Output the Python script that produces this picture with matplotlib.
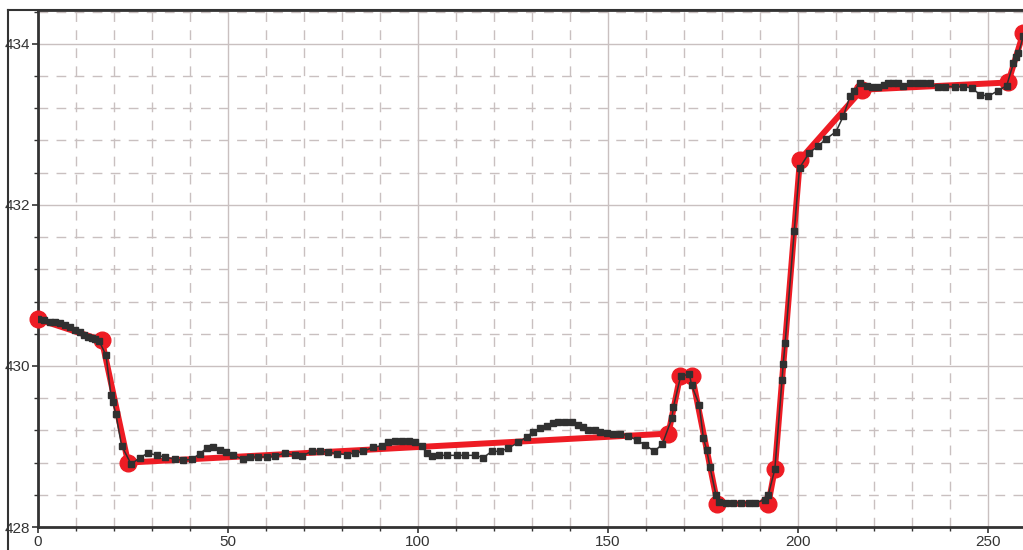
import numpy as np
import matplotlib.pyplot as plt
from matplotlib.lines import Line2D
from matplotlib.ticker import MultipleLocator

plt.rcParams['font.family'] = ['Liberation Sans', 'DejaVu Sans']

# simplified profile (red, big circles)
red_x = [0, 16.8, 23.7, 165.9, 169.0, 172.1, 178.8, 192.2, 193.9, 200.5, 216.8, 255.3, 259.3]
red_y = [430.58, 430.32, 428.80, 429.16, 429.88, 429.88, 428.29, 428.29, 428.72,
         432.56, 433.43, 433.52, 434.14]

# measured profile (dark, small squares)
pts_x = [0, 1.5, 3.2, 4.5, 5.8, 7.1, 8.4, 9.7, 11.1, 12.2, 13.2, 14.2, 15.0, 16.1,
         17.9, 19.2, 19.7, 20.5, 22.0, 24.5, 26.8, 29.0, 31.2, 33.4, 36.1, 38.2,
         40.4, 42.6, 44.4, 46.1, 47.9, 49.6, 51.4, 54.0, 55.8, 58.0, 60.2, 62.4,
         65.0, 67.6, 69.4, 72.0, 74.2, 76.4, 78.6, 81.2, 83.4, 85.6, 88.2, 90.4,
         92.2, 93.9, 95.7, 97.5, 99.2, 101.0, 102.3, 103.6, 105.4, 107.5, 110.2,
         112.4, 115.0, 117.2, 119.4, 121.6, 123.8, 126.4, 128.6, 130.3, 132.1,
         133.9, 135.6, 136.9, 138.7, 140.4, 142.2, 143.5, 144.8, 146.6, 147.9,
         149.6, 151.4, 153.2, 155.3, 157.5, 159.7, 162.2, 164.3, 166.8, 167.2,
         169.1, 171.4, 172.0, 174.0, 175.1, 176.0, 176.8, 178.4, 179.3, 181.0,
         183.0, 185.0, 187.0, 188.8, 191.3, 192.2, 193.9, 195.8, 196.1, 196.6,
         199.0, 200.4, 203.0, 205.3, 207.4, 210.0, 211.9, 213.7, 214.8, 216.3,
         218.1, 219.4, 221.1, 222.5, 223.8, 225.1, 226.4, 227.7, 229.5, 231.2,
         233.0, 234.7, 236.9, 238.7, 241.3, 243.5, 245.7, 247.9, 250.1, 252.7,
         254.9, 256.7, 257.4, 258.0, 259.3]
pts_y = [430.58, 430.57, 430.55, 430.54, 430.53, 430.51, 430.48, 430.45, 430.42,
         430.39, 430.36, 430.35, 430.34, 430.31, 430.13, 429.64, 429.55, 429.40,
         429.01, 428.78, 428.86, 428.92, 428.89, 428.87, 428.84, 428.83, 428.84,
         428.91, 428.98, 428.99, 428.95, 428.93, 428.89, 428.84, 428.87, 428.87,
         428.87, 428.88, 428.92, 428.89, 428.88, 428.94, 428.94, 428.93, 428.91,
         428.90, 428.92, 428.94, 428.99, 429.01, 429.06, 429.07, 429.07, 429.07,
         429.05, 429.00, 428.92, 428.88, 428.89, 428.89, 428.89, 428.89, 428.89,
         428.86, 428.94, 428.94, 428.98, 429.05, 429.12, 429.18, 429.23, 429.26,
         429.29, 429.30, 429.31, 429.30, 429.27, 429.24, 429.21, 429.20, 429.18,
         429.17, 429.16, 429.16, 429.13, 429.08, 429.02, 428.94, 429.03, 429.35,
         429.49, 429.87, 429.90, 429.76, 429.52, 429.10, 428.95, 428.75, 428.40,
         428.31, 428.30, 428.30, 428.30, 428.30, 428.30, 428.34, 428.40, 428.72,
         429.83, 430.03, 430.28, 431.67, 432.46, 432.65, 432.73, 432.82, 432.91,
         433.10, 433.35, 433.42, 433.51, 433.48, 433.46, 433.46, 433.49, 433.51,
         433.51, 433.51, 433.48, 433.51, 433.51, 433.51, 433.51, 433.46, 433.47,
         433.47, 433.47, 433.45, 433.37, 433.35, 433.42, 433.48, 433.76, 433.84,
         433.88, 434.10]

fig = plt.figure(figsize=(10.23, 5.5), dpi=100)
ax = fig.add_axes([38 / 1023, 23 / 550, 1 - 38 / 1023, 517 / 550])

ax.plot(red_x, red_y, color='#ee1c24', lw=4.3, marker='o', ms=12,
        solid_joinstyle='round', zorder=3, clip_on=False)
ax.plot(pts_x, pts_y, color='#303030', lw=1.1, marker='s', ms=4.3, zorder=4)

ax.set_xlim(0, 259.2)
ax.set_ylim(428, 434.42)
ax.xaxis.set_major_locator(MultipleLocator(50))
ax.xaxis.set_minor_locator(MultipleLocator(10))
ax.yaxis.set_major_locator(MultipleLocator(2))
ax.yaxis.set_minor_locator(MultipleLocator(0.4))

ax.grid(which='major', color='#c9c0c0', lw=1.0, ls='-')
ax.grid(which='minor', color='#c9c0c0', lw=1.0, ls=(0, (7, 6)))
ax.set_axisbelow(True)

ax.tick_params(which='both', direction='out', color='#333333', labelcolor='#333333',
               labelsize=11)
ax.tick_params(which='major', length=4, width=1.2)
ax.tick_params(which='minor', length=3, width=1.0)
ax.tick_params(axis='y', pad=2)
ax.tick_params(axis='x', pad=2)

for s in ['left', 'bottom', 'top']:
    ax.spines[s].set_color('#333333')
    ax.spines[s].set_linewidth(2.0)
ax.spines['right'].set_visible(False)

# outer frame on the left and top
fig.add_artist(Line2D([8 / 1023, 8 / 1023], [0, 540 / 550], transform=fig.transFigure,
                      color='#333333', lw=1.5))
fig.add_artist(Line2D([8 / 1023, 1], [540 / 550, 540 / 550], transform=fig.transFigure,
                      color='#333333', lw=1.5))

fig.savefig('out.png', dpi=100)
